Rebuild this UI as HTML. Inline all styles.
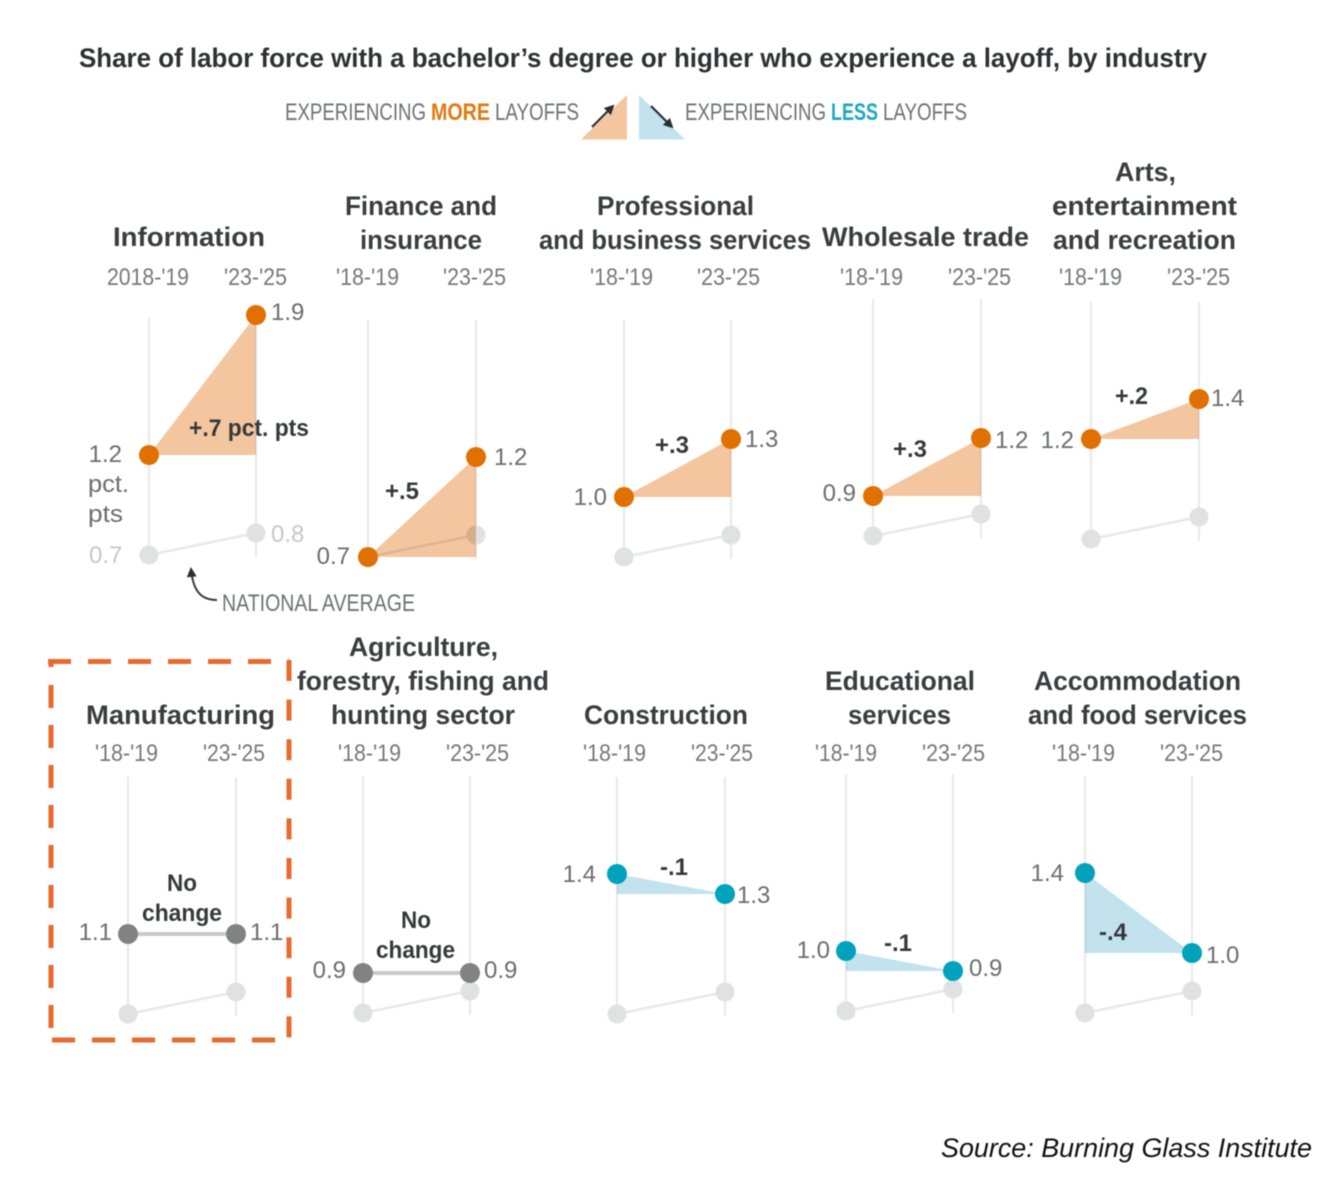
<!DOCTYPE html>
<html lang="en">
<head>
<meta charset="utf-8">
<title>Share of labor force experiencing a layoff, by industry</title>
<style>
  html, body { margin: 0; padding: 0; background: #fff; }
  body { width: 1332px; height: 1198px; overflow: hidden; }
  svg { display: block; filter: blur(0.45px); font-family: "Liberation Sans", sans-serif; }
  .title { font-size: 27px; font-weight: 700; fill: #2e3034; }
  .panel-title { font-size: 27px; font-weight: 700; fill: #3a3c40; }
  .period { font-size: 24px; fill: #77787a; }
  .legend { font-size: 24px; fill: #6f7174; }
  .value { font-size: 24px; fill: #6c6d70; }
  .nat-value { font-size: 24px; fill: #c6c7c9; }
  .delta { font-size: 24px; font-weight: 700; fill: #36383b; }
</style>
</head>
<body>
<svg id="chart" width="1332" height="1198" viewBox="0 0 1332 1198" xmlns="http://www.w3.org/2000/svg">
  <defs>
    <marker id="arrow-head" viewBox="0 0 10 10" refX="8" refY="5" markerWidth="10" markerHeight="10" markerUnits="userSpaceOnUse" orient="auto">
      <path d="M0 0 L10 5 L0 10 Z" fill="#2c2e31"></path>
    </marker>
  </defs>
  <rect width="1332" height="1198" fill="#fff"></rect>

  <text class="title" x="79" y="67" textLength="1128" lengthAdjust="spacingAndGlyphs">Share of labor force with a bachelor’s degree or higher who experience a layoff, by industry</text>

  <g>
    <text class="legend" x="285" y="120" textLength="141" lengthAdjust="spacingAndGlyphs">EXPERIENCING</text>
    <text class="legend" x="431" y="120" textLength="59" lengthAdjust="spacingAndGlyphs" style="font-weight:700;fill:#e07a10">MORE</text>
    <text class="legend" x="495" y="120" textLength="84" lengthAdjust="spacingAndGlyphs">LAYOFFS</text>
    <polygon points="581,139.5 627,95 627,139.5" fill="#f3c69f"></polygon>
    <line x1="592" y1="127" x2="613" y2="106" stroke="#2c2e31" stroke-width="2.2" marker-end="url(#arrow-head)"></line>
    <polygon points="639,95 639,139.5 685,139.5" fill="#c2e2ee"></polygon>
    <line x1="651" y1="106" x2="672" y2="127" stroke="#2c2e31" stroke-width="2.2" marker-end="url(#arrow-head)"></line>
    <text class="legend" x="685" y="120" textLength="141" lengthAdjust="spacingAndGlyphs">EXPERIENCING</text>
    <text class="legend" x="831" y="120" textLength="47" lengthAdjust="spacingAndGlyphs" style="font-weight:700;fill:#1fa6c0">LESS</text>
    <text class="legend" x="883" y="120" textLength="84" lengthAdjust="spacingAndGlyphs">LAYOFFS</text>
  </g>

  <g id="panels"></g>

  <g>
    <path d="M217 600 C200 600 193 590 191 569" fill="none" stroke="#3a3c40" stroke-width="2" marker-end="url(#arrow-head)"></path>
    <text class="legend" x="222" y="611" textLength="193" lengthAdjust="spacingAndGlyphs">NATIONAL AVERAGE</text>
    <text class="value" x="88" y="492" textLength="41" lengthAdjust="spacingAndGlyphs">pct.</text>
    <text class="value" x="88" y="522" textLength="35" lengthAdjust="spacingAndGlyphs">pts</text>
  </g>

  <g fill="none" stroke="#ea6a2e" stroke-width="5">
    <line x1="48" y1="661.5" x2="289" y2="661.5" stroke-dasharray="23 17"></line>
    <line x1="51" y1="660" x2="51" y2="667"></line>
    <line x1="51" y1="685" x2="51" y2="1030" stroke-dasharray="23 17"></line>
    <line x1="289" y1="660" x2="289" y2="1040" stroke-dasharray="21 18.6"></line>
    <line x1="52" y1="1040" x2="285" y2="1040" stroke-dasharray="23 17"></line>
  </g>

  <text x="941" y="1157" textLength="371" lengthAdjust="spacingAndGlyphs" style="font-size:27px;font-style:italic;fill:#111">Source: Burning Glass Institute</text>
</svg>

<script>
// ---- Data ----
const industries = ["Information", "Finance and insurance", "Professional and business services", "Wholesale trade", "Arts, entertainment and recreation", "Manufacturing", "Agriculture, forestry, fishing and hunting sector", "Construction", "Educational services", "Accommodation and food services"];
const startValues = [1.2, 0.7, 1.0, 0.9, 1.2, 1.1, 0.9, 1.4, 1.0, 1.4];
const endValues = [1.9, 1.2, 1.29, 1.19, 1.4, 1.1, 0.9, 1.3, 0.9, 1.0];
const nationalStart = [0.7, 0.7, 0.7, 0.7, 0.7, 0.7, 0.7, 0.7, 0.7, 0.7];
const nationalEnd = [0.81, 0.81, 0.81, 0.81, 0.81, 0.81, 0.81, 0.81, 0.81, 0.81];
const deltaLabels = [["+.7 pct. pts"], ["+.5"], ["+.3"], ["+.3"], ["+.2"], ["No", "change"], ["No", "change"], ["-.1"], ["-.1"], ["-.4"]];
const startPeriodLabels = ["2018-'19", "'18-'19", "'18-'19", "'18-'19", "'18-'19", "'18-'19", "'18-'19", "'18-'19", "'18-'19", "'18-'19"];
const endPeriodLabels = ["'23-'25", "'23-'25", "'23-'25", "'23-'25", "'23-'25", "'23-'25", "'23-'25", "'23-'25", "'23-'25", "'23-'25"];

// ---- Layout of the small multiples (not data) ----
const PX_PER_POINT = 200;
const REF_VALUE = 0.7;
const panelLayout = [
  { x0: 149, x1: 256, refY: 555, gapL: 27, gapR: 15, dyL: 7, dyR: 5, periodY: 285,
    period: [107, 189, 224, 287],
    titleLines: [["Information", 113, 265, 246]],
    delta: [[189, 309, -19]] },
  { x0: 368, x1: 476, refY: 557, gapL: 18, gapR: 18, dyL: 7, dyR: 8, periodY: 285,
    period: [336, 399, 443, 506],
    titleLines: [["Finance and", 345, 497, 215], ["insurance", 360, 482, 249]],
    delta: [[385, 419, -58]] },
  { x0: 624, x1: 731, refY: 557, gapL: 17, gapR: 14, dyL: 8, dyR: 8, periodY: 285,
    period: [590, 653, 697, 760],
    titleLines: [["Professional", 597, 754, 215], ["and business services", 539, 811, 249]],
    delta: [[655, 689, -44]] },
  { x0: 873, x1: 981, refY: 536, gapL: 17, gapR: 14, dyL: 5, dyR: 10, periodY: 285,
    period: [840, 903, 948, 1011],
    titleLines: [["Wholesale trade", 822, 1029, 246]],
    delta: [[893, 927, -39]] },
  { x0: 1091, x1: 1199, refY: 539, gapL: 17, gapR: 12, dyL: 9, dyR: 7, periodY: 285,
    period: [1059, 1122, 1167, 1230],
    titleLines: [["Arts,", 1115, 1176, 181], ["entertainment", 1052, 1237, 215], ["and recreation", 1053, 1236, 249]],
    delta: [[1115, 1148, -35]] },
  { x0: 128, x1: 236, refY: 1014, gapL: 16, gapR: 14, dyL: 6, dyR: 6, periodY: 761,
    period: [95, 158, 203, 265],
    titleLines: [["Manufacturing", 86, 275, 724]],
    delta: [[167, 197, -43], [142, 222, -13]] },
  { x0: 363, x1: 470, refY: 1013, gapL: 17, gapR: 14, dyL: 5, dyR: 5, periodY: 761,
    period: [338, 401, 446, 509],
    titleLines: [["Agriculture,", 349, 498, 656], ["forestry, fishing and", 297, 549, 690], ["hunting sector", 331, 515, 724]],
    delta: [[401, 431, -45], [376, 455, -15]] },
  { x0: 617, x1: 725, refY: 1014, gapL: 21, gapR: 12, dyL: 8, dyR: 9, periodY: 761,
    period: [583, 646, 691, 753],
    titleLines: [["Construction", 584, 748, 724]],
    delta: [[660, 688, 1]] },
  { x0: 846, x1: 953, refY: 1011, gapL: 16, gapR: 16, dyL: 7, dyR: 5, periodY: 761,
    period: [815, 877, 922, 985],
    titleLines: [["Educational", 825, 975, 690], ["services", 848, 951, 724]],
    delta: [[884, 912, 0]] },
  { x0: 1085, x1: 1192, refY: 1013, gapL: 21, gapR: 14, dyL: 8, dyR: 10, periodY: 761,
    period: [1052, 1115, 1160, 1223],
    titleLines: [["Accommodation", 1034, 1241, 690], ["and food services", 1028, 1247, 724]],
    delta: [[1099, 1127, 67]] }
];

const COLORS = {
  up: { dot: "#e07000", fill: "#f3c69f" },
  down: { dot: "#00a3bb", fill: "#c2e2ee" },
  flat: { dot: "#818284", line: "#c9c9cb" },
  axis: "#e8e8ea",
  nationalDot: "#e0e1e3",
  nationalLine: "#e8e8ea"
};

const SVG_NS = "http://www.w3.org/2000/svg";
const panelsRoot = document.getElementById("panels");

function yScale(layout, value) {
  return layout.refY - (value - REF_VALUE) * PX_PER_POINT;
}

function make(parent, tag, attrs, content) {
  const node = document.createElementNS(SVG_NS, tag);
  Object.keys(attrs).forEach(function (key) { node.setAttribute(key, attrs[key]); });
  if (content !== undefined) node.textContent = content;
  parent.appendChild(node);
  return node;
}

function fitted(cls, x, y, width) {
  return { "class": cls, x: x, y: y, textLength: width, lengthAdjust: "spacingAndGlyphs" };
}

industries.forEach(function (industry, i) {
  const layout = panelLayout[i];
  const start = startValues[i];
  const end = endValues[i];
  const natStart = nationalStart[i];
  const natEnd = nationalEnd[i];
  const y0 = yScale(layout, start);
  const y1 = yScale(layout, end);
  const ny0 = yScale(layout, natStart);
  const ny1 = yScale(layout, natEnd);
  const x0 = layout.x0;
  const x1 = layout.x1;
  const direction = end > start ? "up" : (end < start ? "down" : "flat");

  const panel = make(panelsRoot, "g", {});
  
  

  layout.titleLines.forEach(function (line) {
    const titleLine = make(panel, "text", fitted("panel-title", line[1], line[3], line[2] - line[1]), line[0]);
    
    
  });

  const startPeriod = make(panel, "text", fitted("period", layout.period[0], layout.periodY, layout.period[1] - layout.period[0]), startPeriodLabels[i]);
  
  

  const endPeriod = make(panel, "text", fitted("period", layout.period[2], layout.periodY, layout.period[3] - layout.period[2]), endPeriodLabels[i]);
  
  

  const axisTop = layout.refY - 237;
  const leftAxis = make(panel, "line", { x1: x0, x2: x0, y1: axisTop, y2: layout.refY, stroke: COLORS.axis, "stroke-width": 2 });
  
  

  const rightAxis = make(panel, "line", { x1: x1, x2: x1, y1: axisTop, y2: layout.refY + 2, stroke: COLORS.axis, "stroke-width": 2 });
  
  

  const natLine = make(panel, "line", { x1: x0, y1: ny0, x2: x1, y2: ny1, stroke: COLORS.nationalLine, "stroke-width": 2.5 });
  
  

  const natDot0 = make(panel, "circle", { cx: x0, cy: ny0, r: 9.5, fill: COLORS.nationalDot });
  
  

  const natDot1 = make(panel, "circle", { cx: x1, cy: ny1, r: 9.5, fill: COLORS.nationalDot });
  
  

  if (i === 0) {
    const natLabel0 = make(panel, "text", { "class": "nat-value", x: x0 - 60, y: ny0 + 8 }, natStart.toFixed(1));
    
    

    const natLabel1 = make(panel, "text", { "class": "nat-value", x: x1 + layout.gapR, y: ny1 + 9 }, natEnd.toFixed(1));
    
    
  }

  if (direction === "flat") {
    const flatLine = make(panel, "line", { x1: x0, y1: y0, x2: x1, y2: y1, stroke: COLORS.flat.line, "stroke-width": 4 });
    
    
  } else {
    const cornerX = direction === "up" ? x1 : x0;
    const cornerY = direction === "up" ? y0 : y1;
    const triangle = make(panel, "polygon", {
      points: x0 + "," + y0 + " " + x1 + "," + y1 + " " + cornerX + "," + cornerY,
      fill: COLORS[direction].fill,
      style: "mix-blend-mode:multiply"
    });
    
    
  }

  const dotColor = COLORS[direction].dot;
  const startDot = make(panel, "circle", { cx: x0, cy: y0, r: 10, fill: dotColor });
  
  

  const endDot = make(panel, "circle", { cx: x1, cy: y1, r: 10, fill: dotColor });
  
  

  const startLabel = make(panel, "text", { "class": "value", x: x0 - layout.gapL, y: y0 + layout.dyL, "text-anchor": "end" }, start.toFixed(1));
  
  

  const endLabel = make(panel, "text", { "class": "value", x: x1 + layout.gapR, y: y1 + layout.dyR }, end.toFixed(1));
  
  

  deltaLabels[i].forEach(function (text, lineIndex) {
    const spot = layout.delta[lineIndex];
    const delta = make(panel, "text", fitted("delta", spot[0], y0 + spot[2], spot[1] - spot[0]), text);
    
    
  });
});
</script>
</body>
</html>
